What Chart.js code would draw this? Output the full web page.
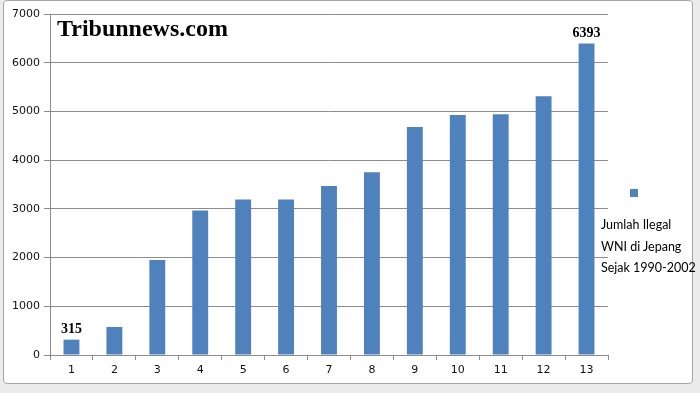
<!DOCTYPE html>
<html>
<head>
<meta charset="utf-8">
<script src="https://cdn.jsdelivr.net/npm/chart.js@4.4.1/dist/chart.umd.min.js"></script>
<style>
  html, body { margin: 0; padding: 0; }
  body { width: 700px; height: 393px; background: #ececec; position: relative; overflow: hidden; }
  #frame { position: absolute; left: 3px; top: 0px; width: 688px; height: 382px; background: #fff;
           border: 1.5px solid #a6a6a6; border-radius: 4px; }
  #wrap { position: absolute; left: 0; top: 0; width: 700px; height: 393px; }
  #title { position: absolute; left: 57px; top: 14px; font-family: "Liberation Serif", serif; font-weight: bold;
           font-size: 24px; color: #000; line-height: 28px; white-space: nowrap; }
  #legend { position: absolute; left: 601px; top: 186px; font-family: Lato, "Open Sans", sans-serif; font-size: 12.5px; color: #000; }
  #legend .sw { position: absolute; left: 29px; top: 3px; width: 8px; height: 8px; background: #4F81BD; }
  #legend .txt { position: absolute; left: 0; top: 28px; line-height: 21.5px; white-space: nowrap; }
</style>
</head>
<body>
<div id="frame"></div>
<div id="wrap"><canvas id="c" width="700" height="393"></canvas></div>
<div id="title">Tribunnews.com</div>
<div id="legend"><div class="sw"></div><div class="txt" id="legtxt"></div></div>
<script>
const categories = ["1","2","3","4","5","6","7","8","9","10","11","12","13"];
const values = [315, 575, 1950, 2965, 3190, 3190, 3470, 3750, 4680, 4925, 4940, 5310, 6393];
const seriesLabel = ["Jumlah Ilegal", "WNI di Jepang", "Sejak 1990-2002"];
const labeledIndices = [0, 12];
const yTicks = [0, 1000, 2000, 3000, 4000, 5000, 6000, 7000];

document.getElementById('legtxt').innerHTML = seriesLabel.join('<br>');

const barLabels = {
  id: 'barLabels',
  afterDatasetsDraw(chart) {
    const ctx = chart.ctx;
    const meta = chart.getDatasetMeta(0);
    ctx.save();
    ctx.font = 'bold 14px "Liberation Serif", serif';
    ctx.fillStyle = '#000';
    ctx.textAlign = 'center';
    ctx.textBaseline = 'alphabetic';
    labeledIndices.forEach(i => {
      const el = meta.data[i];
      ctx.fillText(String(values[i]), el.x, el.y - 7);
    });
    ctx.restore();
  }
};

new Chart(document.getElementById('c'), {
  type: 'bar',
  data: {
    labels: categories,
    datasets: [{
      label: seriesLabel.join(' '),
      data: values,
      backgroundColor: '#4F81BD',
      borderWidth: 0,
      barPercentage: 0.37,
      categoryPercentage: 1.0
    }]
  },
  options: {
    responsive: false,
    animation: false,
    layout: { padding: { left: 0, right: 92, top: 14, bottom: 8 } },
    plugins: { legend: { display: false }, tooltip: { enabled: false } },
    scales: {
      x: {
        grid: { display: true, drawOnChartArea: false, drawTicks: true, offset: true, tickLength: 5, color: '#8c8c8c' },
        border: { color: '#8c8c8c' },
        ticks: { color: '#111', font: { family: '"DejaVu Sans", Verdana, sans-serif', size: 11 }, padding: 4 },
        afterFit(s) { s.height = 30; }
      },
      y: {
        min: 0, max: 7000,
        afterBuildTicks(s) { s.ticks = yTicks.map(v => ({ value: v })); },
        grid: { color: '#8c8c8c', tickLength: 6, drawTicks: true },
        border: { color: '#8c8c8c' },
        ticks: { color: '#111', font: { family: '"DejaVu Sans", Verdana, sans-serif', size: 11 }, padding: 4,
                 callback: v => String(v) },
        afterFit(s) { s.width = 50; }
      }
    }
  },
  plugins: [barLabels]
});
</script>
</body>
</html>
